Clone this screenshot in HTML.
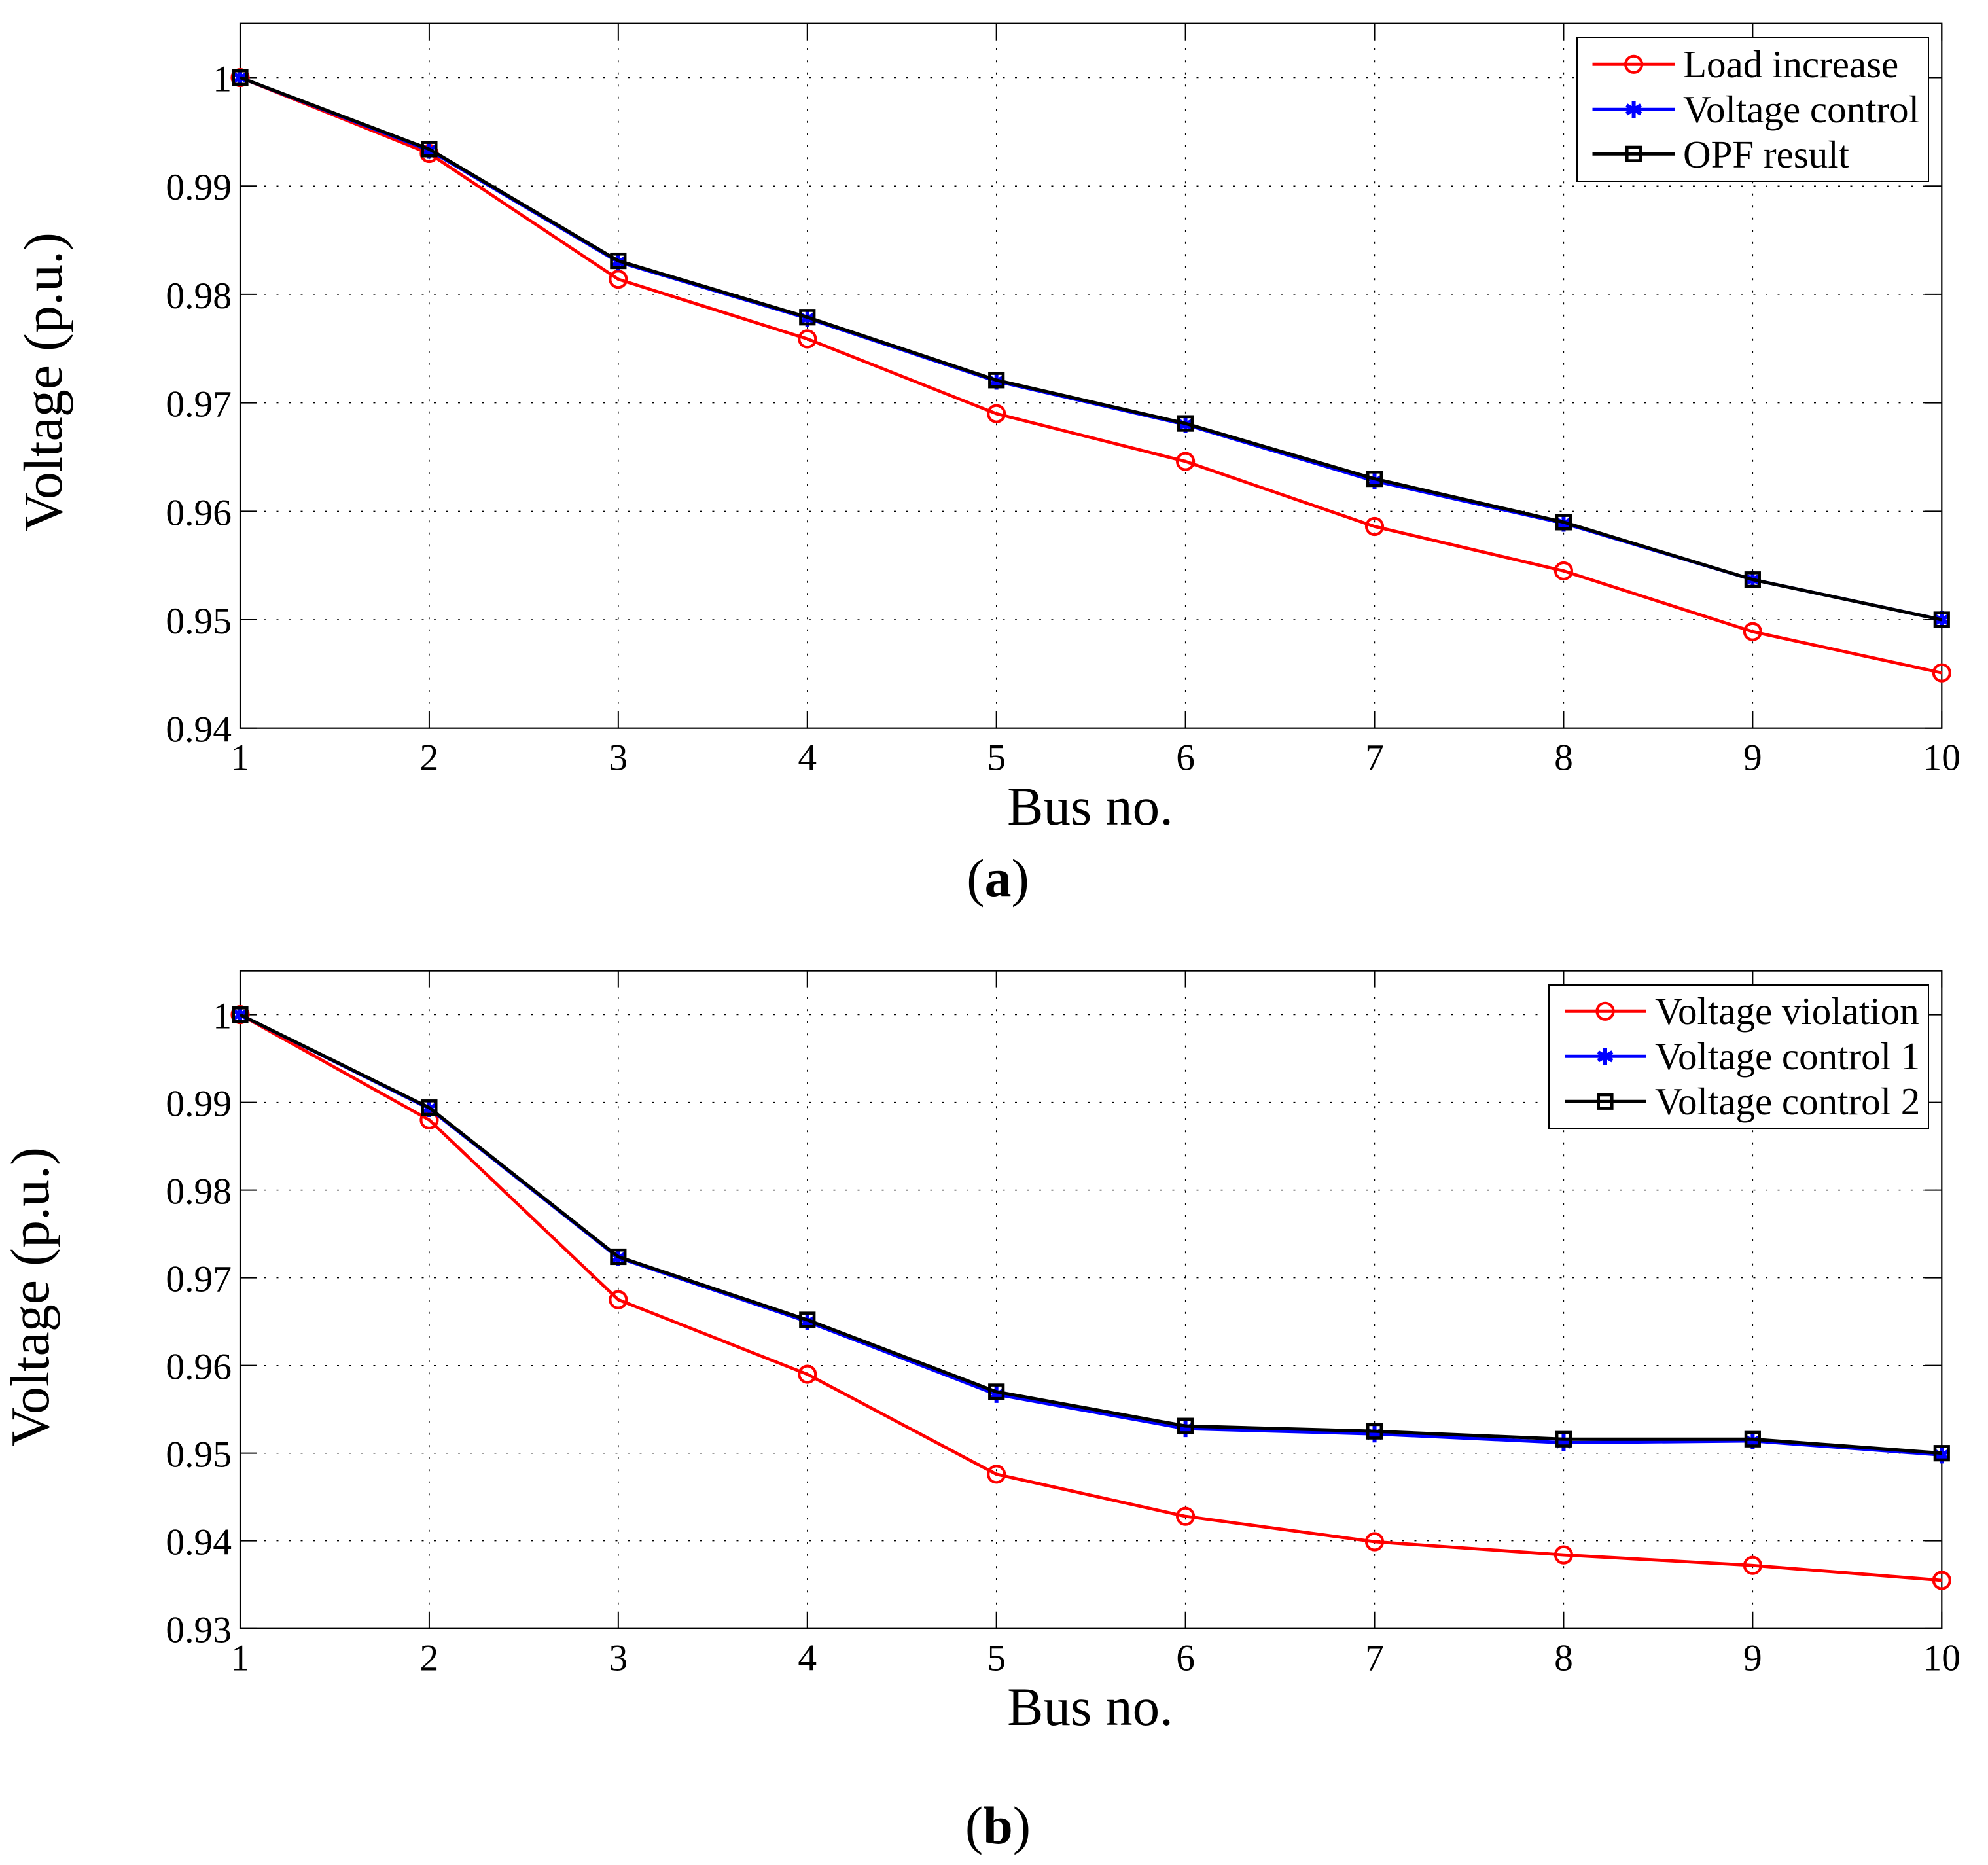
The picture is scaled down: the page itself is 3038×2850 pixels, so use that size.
<!DOCTYPE html>
<html lang="en">
<head>
<meta charset="utf-8">
<title>Voltage profile by bus</title>
<style>
  html, body { margin: 0; padding: 0; background: #fff; }
  svg { display: block; }
  text { font-family: "Liberation Serif", "Times New Roman", serif; fill: #000; }
  .tick-label { font-size: 57.5px; }
  .legend-label { font-size: 59px; }
  .title { font-size: 83px; }
  .y-title { font-size: 84px; }
  .caption { font-size: 82px; }
</style>
</head>
<body>
<svg id="chart" xmlns="http://www.w3.org/2000/svg" width="3038" height="2850" viewBox="0 0 3038 2850">
  <rect x="0" y="0" width="3038" height="2850" fill="#fff"/>

  <g id="panel-a">
    <g id="a-plot"></g>
    <text class="y-title" transform="translate(94 584) rotate(-90)" text-anchor="middle">Voltage (p.u.)</text>
    <text class="title" x="1666" y="1260" text-anchor="middle">Bus no.</text>
    <text class="caption" x="1525" y="1369" text-anchor="middle">(<tspan font-weight="bold">a</tspan>)</text>
    <g>
      <rect x="2410" y="57" width="537" height="220" fill="#fff" stroke="#000" stroke-width="2"/>
      <g id="a-legend-keys"></g>
      <text class="legend-label" x="2572" y="118">Load increase</text>
      <text class="legend-label" x="2572" y="187">Voltage control</text>
      <text class="legend-label" x="2572" y="256">OPF result</text>
    </g>
  </g>

  <g id="panel-b">
    <g id="b-plot"></g>
    <text class="y-title" transform="translate(74 1982) rotate(-90)" text-anchor="middle">Voltage (p.u.)</text>
    <text class="title" x="1666" y="2636" text-anchor="middle">Bus no.</text>
    <text class="caption" x="1525" y="2817" text-anchor="middle">(<tspan font-weight="bold">b</tspan>)</text>
    <g>
      <rect x="2367" y="1505" width="580" height="220" fill="#fff" stroke="#000" stroke-width="2"/>
      <g id="b-legend-keys"></g>
      <text class="legend-label" x="2529" y="1565">Voltage violation</text>
      <text class="legend-label" x="2529" y="1634">Voltage control 1</text>
      <text class="legend-label" x="2529" y="1703">Voltage control 2</text>
    </g>
  </g>
</svg>

<script>
// ---- chart data ----
const busNumbers = [1, 2, 3, 4, 5, 6, 7, 8, 9, 10];
const xTickLabels = ['1', '2', '3', '4', '5', '6', '7', '8', '9', '10'];

const yTicksA = [1, 0.99, 0.98, 0.97, 0.96, 0.95, 0.94];
const yTickLabelsA = ['1', '0.99', '0.98', '0.97', '0.96', '0.95', '0.94'];
const loadIncrease = [1, 0.9930, 0.9814, 0.9759, 0.9690, 0.9646, 0.9586, 0.9545, 0.9489, 0.9451];
const voltageControl = [1, 0.9933, 0.9830, 0.9778, 0.9720, 0.9680, 0.9628, 0.9589, 0.9537, 0.9500];
const opfResult = [1, 0.9934, 0.9831, 0.9779, 0.9721, 0.9681, 0.9630, 0.9590, 0.9537, 0.9500];

const yTicksB = [1, 0.99, 0.98, 0.97, 0.96, 0.95, 0.94, 0.93];
const yTickLabelsB = ['1', '0.99', '0.98', '0.97', '0.96', '0.95', '0.94', '0.93'];
const voltageViolation = [1, 0.9880, 0.9675, 0.9590, 0.9476, 0.9428, 0.9399, 0.9384, 0.9372, 0.9355];
const voltageControl1 = [1, 0.9893, 0.9723, 0.9650, 0.9567, 0.9528, 0.9522, 0.9512, 0.9514, 0.9498];
const voltageControl2 = [1, 0.9894, 0.9724, 0.9652, 0.9570, 0.9531, 0.9525, 0.9516, 0.9516, 0.9500];

// ---- axis ranges ----
const busMin = 1;
const busMax = 10;
const voltageMaxShown = 1.005;
const voltageMinA = 0.94;
const voltageMinB = 0.93;

// ---- layout ----
const plotLeft = 367;
const plotRight = 2967.3;
const SVG_NS = 'http://www.w3.org/2000/svg';

function shape(parent, tag, attrs) {
  const el = document.createElementNS(SVG_NS, tag);
  for (const key in attrs) el.setAttribute(key, attrs[key]);
  parent.appendChild(el);
  return el;
}

function xScale(bus) {
  return plotLeft + (bus - busMin) / (busMax - busMin) * (plotRight - plotLeft);
}

function makeYScale(top, bottom, vMin) {
  return function (v) {
    return top + (voltageMaxShown - v) / (voltageMaxShown - vMin) * (bottom - top);
  };
}

function drawMarker(group, kind, cx, cy, color) {
  if (kind === 'circle') {
    const c = shape(group, 'circle', { cx: cx, cy: cy, r: 12.5, fill: 'none', stroke: color, 'stroke-width': 4.2 });
    
    
  } else if (kind === 'star') {
    const s = shape(group, 'path', {
      d: 'M' + cx + ' ' + (cy - 13) + 'V' + (cy + 13) +
         'M' + (cx - 11) + ' ' + (cy - 6.5) + 'L' + (cx + 11) + ' ' + (cy + 6.5) +
         'M' + (cx - 11) + ' ' + (cy + 6.5) + 'L' + (cx + 11) + ' ' + (cy - 6.5),
      fill: 'none', stroke: color, 'stroke-width': 6
    });
    
    
  } else {
    const q = shape(group, 'rect', { x: cx - 10.3, y: cy - 10.3, width: 20.6, height: 20.6, fill: 'none', stroke: color, 'stroke-width': 4.6 });
    
    
  }
}

function drawAxes(root, top, bottom, y, yTicks, yLabels) {
  const grid = shape(root, 'g', { stroke: '#000', 'stroke-width': 1.4, 'stroke-dasharray': '3 15.5', fill: 'none' });
  
  
  busNumbers.forEach(function (bus) {
    const line = shape(grid, 'line', { x1: xScale(bus), x2: xScale(bus), y1: bottom, y2: top });
    
    
  });
  yTicks.forEach(function (v) {
    const line = shape(grid, 'line', { x1: plotLeft, x2: plotRight, y1: y(v), y2: y(v) });
    
    
  });

  const ticks = shape(root, 'g', { stroke: '#000', 'stroke-width': 2, fill: 'none' });
  
  
  busNumbers.forEach(function (bus) {
    const t = shape(ticks, 'path', {
      d: 'M' + xScale(bus) + ' ' + bottom + 'v-26M' + xScale(bus) + ' ' + top + 'v26'
    });
    
    
  });
  yTicks.forEach(function (v) {
    const t = shape(ticks, 'path', {
      d: 'M' + plotLeft + ' ' + y(v) + 'h26M' + plotRight + ' ' + y(v) + 'h-26'
    });
    
    
  });

  const frame = shape(root, 'rect', {
    x: plotLeft, y: top, width: plotRight - plotLeft, height: bottom - top,
    fill: 'none', stroke: '#000', 'stroke-width': 2.2
  });
  
  

  busNumbers.forEach(function (bus, i) {
    const label = shape(root, 'text', {
      x: xScale(bus), y: bottom + 64,
      'text-anchor': 'middle', class: 'tick-label'
    });
    
    
    label.textContent = xTickLabels[i];
  });
  yTicks.forEach(function (v, i) {
    const label = shape(root, 'text', {
      x: 354, y: y(v) + 21, 'text-anchor': 'end', class: 'tick-label'
    });
    
    
    label.textContent = yLabels[i];
  });
}

function drawSeries(root, name, values, y, color, kind, lineWidth) {
  const g = shape(root, 'g', {});
  
  
  const points = busNumbers.map(function (bus, i) {
    return xScale(bus) + ',' + y(values[i]);
  }).join(' ');
  const line = shape(g, 'polyline', {
    points: points, fill: 'none', stroke: color, 'stroke-width': lineWidth, 'stroke-linejoin': 'round'
  });
  
  
  busNumbers.forEach(function (bus, i) {
    drawMarker(g, kind, xScale(bus), y(values[i]), color);
  });
}

function drawLegendKey(root, name, x1, x2, mx, rowY, color, kind) {
  const g = shape(root, 'g', {});
  
  
  const line = shape(g, 'line', { x1: x1, x2: x2, y1: rowY, y2: rowY, stroke: color, 'stroke-width': 5 });
  
  
  drawMarker(g, kind, mx, rowY, color);
}

// ---- panel (a) ----
const topA = 35.7;
const bottomA = 1112.7;
const yA = makeYScale(topA, bottomA, voltageMinA);
const plotA = document.getElementById('a-plot');
drawAxes(plotA, topA, bottomA, yA, yTicksA, yTickLabelsA);
drawSeries(plotA, 'series-load-increase', loadIncrease, yA, '#ff0000', 'circle', 4.8);
drawSeries(plotA, 'series-voltage-control', voltageControl, yA, '#0000ff', 'star', 5);
drawSeries(plotA, 'series-opf-result', opfResult, yA, '#000000', 'square', 5);

const keysA = document.getElementById('a-legend-keys');
drawLegendKey(keysA, 'legend-key-load-increase', 2433.5, 2560, 2496.6, 98.3, '#ff0000', 'circle');
drawLegendKey(keysA, 'legend-key-voltage-control', 2433.5, 2560, 2496.6, 167.3, '#0000ff', 'star');
drawLegendKey(keysA, 'legend-key-opf-result', 2433.5, 2560, 2496.6, 235.3, '#000000', 'square');

// ---- panel (b) ----
const topB = 1483.6;
const bottomB = 2488.7;
const yB = makeYScale(topB, bottomB, voltageMinB);
const plotB = document.getElementById('b-plot');
drawAxes(plotB, topB, bottomB, yB, yTicksB, yTickLabelsB);
drawSeries(plotB, 'series-voltage-violation', voltageViolation, yB, '#ff0000', 'circle', 4.8);
drawSeries(plotB, 'series-voltage-control-1', voltageControl1, yB, '#0000ff', 'star', 5);
drawSeries(plotB, 'series-voltage-control-2', voltageControl2, yB, '#000000', 'square', 5);

const keysB = document.getElementById('b-legend-keys');
drawLegendKey(keysB, 'legend-key-voltage-violation', 2391, 2516, 2453, 1545.3, '#ff0000', 'circle');
drawLegendKey(keysB, 'legend-key-voltage-control-1', 2391, 2516, 2453, 1614.3, '#0000ff', 'star');
drawLegendKey(keysB, 'legend-key-voltage-control-2', 2391, 2516, 2453, 1683.3, '#000000', 'square');
</script>
</body>
</html>
